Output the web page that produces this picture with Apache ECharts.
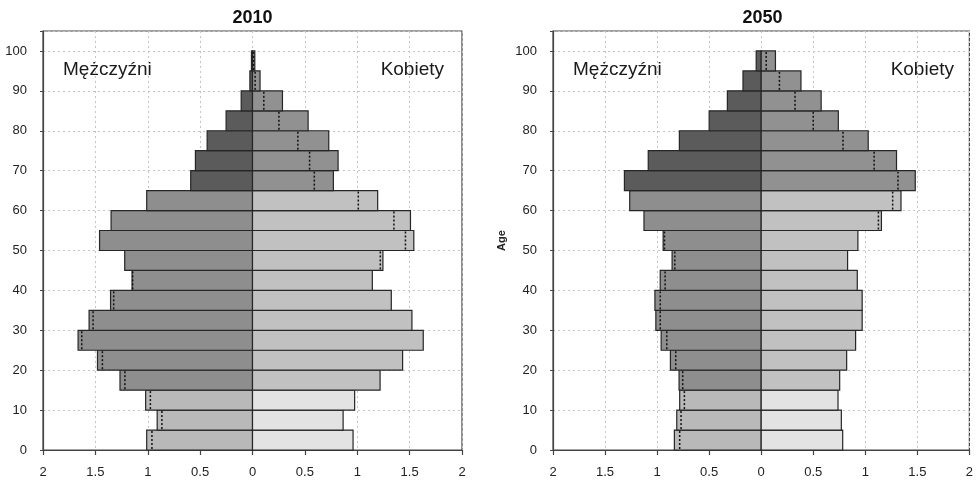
<!DOCTYPE html>
<html>
<head>
<meta charset="utf-8">
<script src="https://cdn.jsdelivr.net/npm/echarts@6/dist/echarts.min.js"></script>
<style>
  html, body { margin: 0; padding: 0; background: #fff; }
  #chart { width: 976px; height: 481px; }
</style>
</head>
<body>
<div id="chart"></div>
<script>
// Age group lower bounds (five-year groups)
const ageStarts = [0, 5, 10, 15, 20, 25, 30, 35, 40, 45, 50, 55, 60, 65, 70, 75, 80, 85, 90, 95];

// Population share (%) by age group
const male2010   = [1.01, 0.91, 1.02, 1.265, 1.48, 1.665, 1.56, 1.355, 1.15, 1.22, 1.46, 1.35, 1.01, 0.59, 0.545, 0.433, 0.252, 0.108, 0.025, 0.01];
const female2010 = [0.96, 0.865, 0.975, 1.218, 1.433, 1.63, 1.522, 1.325, 1.144, 1.245, 1.54, 1.508, 1.195, 0.772, 0.817, 0.728, 0.531, 0.286, 0.072, 0.022];
const male2050   = [0.834, 0.811, 0.783, 0.789, 0.872, 0.961, 1.012, 1.021, 0.97, 0.856, 0.942, 1.126, 1.263, 1.314, 1.085, 0.786, 0.5, 0.325, 0.175, 0.048];
const female2050 = [0.783, 0.77, 0.738, 0.754, 0.821, 0.907, 0.97, 0.97, 0.923, 0.83, 0.929, 1.155, 1.343, 1.48, 1.3, 1.028, 0.741, 0.576, 0.382, 0.137];

const xTicks = [-2, -1.5, -1, -0.5, 0, 0.5, 1, 1.5, 2];
const yearTitles = ['2010', '2050'];
const sexLabels = ['Mężczyźni', 'Kobiety'];

const FONT = '"Liberation Sans", Arial, sans-serif';

// Fill shades: [male, female] for children, working age and elderly
const shades = [
  ['#b9b9b9', '#e3e3e3'],
  ['#8e8e8e', '#c1c1c1'],
  ['#5b5b5b', '#919191']
];
function bandOf(age) { return age < 15 ? 0 : (age < 65 ? 1 : 2); }

// One age group: male bar to the left, female bar to the right,
// and a dotted marker for the smaller sex inside the longer bar
function pyramidItem(params, api) {
  const age = api.value(0), m = api.value(1), f = api.value(2);
  const band = bandOf(age);
  const tl = api.coord([-m, age + 5]);
  const base = api.coord([0, age]);
  const tr = api.coord([f, age + 5]);
  const stroke = { stroke: '#262626', lineWidth: 1.2 };
  const marker = m > f ? -f : m;
  const dx = api.coord([marker, age])[0];
  return {
    type: 'group',
    children: [
      { type: 'rect', shape: { x: tl[0], y: tl[1], width: base[0] - tl[0], height: base[1] - tl[1] },
        style: Object.assign({ fill: shades[band][0] }, stroke) },
      { type: 'rect', shape: { x: base[0], y: tr[1], width: tr[0] - base[0], height: base[1] - tr[1] },
        style: Object.assign({ fill: shades[band][1] }, stroke) },
      { type: 'line', shape: { x1: dx, y1: base[1] - 1, x2: dx, y2: tl[1] + 1 },
        style: { stroke: '#111', lineWidth: 1.5, lineDash: [2, 2] } }
    ]
  };
}

function seriesData(males, females) {
  return ageStarts.map((a, i) => [a, males[i], females[i]]);
}

const grids = [
  { left: 43, right: 514, top: 31, bottom: 31 },
  { left: 553, right: 4, top: 31, bottom: 31 }
];

function xAxisFor(idx) {
  return {
    gridIndex: idx, type: 'value', min: xTicks[0], max: xTicks[xTicks.length - 1], interval: 0.5,
    axisLine: { show: true, onZero: false, lineStyle: { color: '#444', width: 1.2 } },
    axisTick: { show: true, length: 5, lineStyle: { color: '#444', width: 1.2 } },
    axisLabel: { color: '#222', fontSize: 13, fontFamily: FONT, margin: 16,
      formatter: v => String(Math.abs(v)) },
    splitLine: { show: true, lineStyle: { color: '#c4c4c4', type: [2, 3], width: 1 } }
  };
}
function yAxisFor(idx, withName) {
  return {
    gridIndex: idx, type: 'value', min: 0, max: 105, interval: 10,
    name: withName ? 'Age' : '', nameLocation: 'middle', nameGap: 46, nameRotate: 90,
    nameTextStyle: { fontWeight: 'bold', fontSize: 11, color: '#222', fontFamily: FONT },
    axisLine: { show: true, onZero: false, lineStyle: { color: '#444', width: 1.2 } },
    axisTick: { show: true, length: 3, lineStyle: { color: '#444' } },
    axisLabel: { color: '#222', fontSize: 13, fontFamily: FONT, margin: 16,
      formatter: v => (v % 10 === 0 ? String(v) : '') },
    splitLine: { show: true, lineStyle: { color: '#c4c4c4', type: [2, 3], width: 1 } }
  };
}

const graphics = [];
grids.forEach((g, i) => {
  const left = g.left, right = 976 - g.right;
  const center = (left + right) / 2;
  graphics.push({ type: 'text', x: center, y: 18,
    style: { text: yearTitles[i], font: 'bold 18px ' + FONT, fill: '#111', align: 'center', verticalAlign: 'middle' } });
  graphics.push({ type: 'text', x: left + 20, y: 70,
    style: { text: sexLabels[0], font: '19px ' + FONT, fill: '#1a1a1a', align: 'left', verticalAlign: 'middle' } });
  graphics.push({ type: 'text', x: right - 18, y: 70,
    style: { text: sexLabels[1], font: '19px ' + FONT, fill: '#1a1a1a', align: 'right', verticalAlign: 'middle' } });
});

const chart = echarts.init(document.getElementById('chart'), null, { renderer: 'canvas' });
chart.setOption({
  animation: false,
  backgroundColor: '#fff',
  grid: grids.map(g => Object.assign({ show: true, borderColor: '#444', borderWidth: 1.2, backgroundColor: 'transparent' }, g)),
  xAxis: [xAxisFor(0), xAxisFor(1)],
  yAxis: [yAxisFor(0, false), yAxisFor(1, true)],
  graphic: graphics,
  series: [
    { type: 'custom', xAxisIndex: 0, yAxisIndex: 0, renderItem: pyramidItem,
      encode: { x: [1, 2], y: 0 }, data: seriesData(male2010, female2010) },
    { type: 'custom', xAxisIndex: 1, yAxisIndex: 1, renderItem: pyramidItem,
      encode: { x: [1, 2], y: 0 }, data: seriesData(male2050, female2050) }
  ]
});
</script>
</body>
</html>
